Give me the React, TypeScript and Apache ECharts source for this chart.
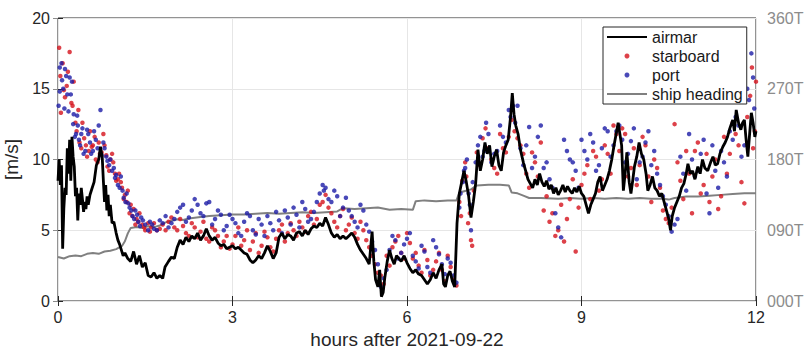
import React, { useEffect, useRef } from "react";
import * as echarts from "echarts";

// ---- Data ----
const airmarHours = [
  0.00, 0.02, 0.04, 0.06, 0.08, 0.10, 0.12, 0.14, 0.16, 0.18, 0.20, 0.22, 0.24, 0.26, 0.28, 0.30, 0.32, 0.34, 0.36, 0.38,
  0.40, 0.42, 0.44, 0.46, 0.48, 0.50, 0.52, 0.55, 0.58, 0.62, 0.66, 0.70, 0.73, 0.76, 0.78, 0.80, 0.82, 0.84, 0.86, 0.88,
  0.90, 0.93, 0.96, 1.00, 1.03, 1.06, 1.09, 1.12, 1.15, 1.20, 1.25, 1.30, 1.35, 1.40, 1.45, 1.50, 1.55, 1.60, 1.65, 1.70,
  1.75, 1.80, 1.84, 1.90, 1.95, 2.00, 2.05, 2.10, 2.15, 2.20, 2.25, 2.30, 2.35, 2.40, 2.45, 2.50, 2.55, 2.60, 2.65, 2.70,
  2.75, 2.80, 2.85, 2.90, 2.95, 3.00, 3.05, 3.10, 3.15, 3.20, 3.25, 3.30, 3.35, 3.40, 3.45, 3.50, 3.55, 3.60, 3.65, 3.70,
  3.75, 3.80, 3.85, 3.90, 3.95, 4.00, 4.05, 4.10, 4.15, 4.20, 4.25, 4.30, 4.35, 4.40, 4.45, 4.50, 4.55, 4.60, 4.65, 4.70,
  4.75, 4.80, 4.85, 4.90, 4.95, 5.00, 5.05, 5.10, 5.15, 5.20, 5.25, 5.30, 5.35, 5.40, 5.43, 5.46, 5.50, 5.53, 5.56, 5.59,
  5.62, 5.66, 5.70, 5.74, 5.78, 5.82, 5.86, 5.90, 5.95, 6.00, 6.05, 6.10, 6.15, 6.20, 6.25, 6.30, 6.35, 6.40, 6.45, 6.50,
  6.55, 6.60, 6.63, 6.66, 6.70, 6.74, 6.78, 6.82, 6.86, 6.90, 6.94, 6.98, 7.02, 7.06, 7.10, 7.14, 7.18, 7.22, 7.26, 7.30,
  7.34, 7.38, 7.42, 7.46, 7.50, 7.54, 7.58, 7.62, 7.66, 7.70, 7.74, 7.78, 7.81, 7.84, 7.87, 7.91, 7.95, 8.00, 8.04, 8.08,
  8.12, 8.16, 8.20, 8.24, 8.28, 8.32, 8.36, 8.40, 8.44, 8.48, 8.52, 8.56, 8.60, 8.64, 8.68, 8.72, 8.76, 8.80, 8.84, 8.88,
  8.92, 8.96, 9.00, 9.04, 9.08, 9.12, 9.16, 9.20, 9.24, 9.28, 9.32, 9.36, 9.40, 9.44, 9.48, 9.52, 9.56, 9.60, 9.63, 9.66,
  9.69, 9.72, 9.75, 9.78, 9.82, 9.85, 9.88, 9.91, 9.95, 9.99, 10.03, 10.07, 10.11, 10.14, 10.18, 10.22, 10.26, 10.30, 10.34, 10.38,
  10.42, 10.46, 10.50, 10.53, 10.56, 10.60, 10.64, 10.68, 10.72, 10.76, 10.80, 10.83, 10.87, 10.91, 10.95, 11.00, 11.04, 11.08, 11.12, 11.17,
  11.22, 11.26, 11.30, 11.34, 11.38, 11.43, 11.47, 11.51, 11.55, 11.60, 11.63, 11.66, 11.70, 11.74, 11.77, 11.80, 11.83, 11.86, 11.89, 11.92,
  11.95, 11.98, 12.00,
];
const airmarSpeed = [
  8.5, 10.0, 8.2, 9.6, 3.7, 6.5, 8.0, 7.5, 10.8, 9.0, 11.4, 8.5, 11.6, 10.2, 9.5, 7.4, 8.0, 5.7, 7.6, 6.8,
  8.0, 7.2, 6.3, 7.0, 6.5, 7.4, 6.8, 7.5, 7.9, 8.4, 9.6, 10.0, 10.9, 10.2, 8.5, 7.0, 8.2, 6.4, 7.5, 6.0,
  6.8, 5.5, 5.6, 4.8, 4.3, 4.0, 3.6, 3.2, 3.4, 3.0, 2.8, 3.5, 2.6, 3.2, 2.4, 2.7, 1.8, 1.7, 2.0, 1.6,
  1.8, 1.6, 2.4, 2.8, 3.1, 3.0, 3.8, 4.3, 4.0, 4.5, 4.2, 4.6, 4.4, 4.8, 4.3, 4.6, 5.1, 4.6, 4.3, 4.5,
  4.1, 3.9, 4.0, 3.7, 3.8, 3.9, 3.7, 3.8, 3.6, 3.4, 3.3, 2.9, 2.7, 2.9, 3.2, 3.0, 3.4, 3.9, 3.5, 3.0,
  3.4, 4.5, 4.8, 4.4, 4.7, 4.6, 4.3, 4.8, 4.9, 4.6, 5.0, 4.7, 5.1, 5.3, 5.2, 5.5, 5.3, 5.9, 5.4, 4.8,
  4.5, 4.7, 4.4, 4.6, 4.4, 4.6, 4.8, 4.5, 4.0, 3.6, 3.3, 3.0, 2.6, 4.9, 2.8, 1.5, 1.0, 2.2, 0.3, 0.6,
  1.7, 2.8, 3.6, 3.0, 2.6, 3.2, 3.0, 2.8, 3.2, 2.7, 2.3, 2.0, 2.2, 1.9, 1.8, 1.5, 1.2, 1.5, 2.0, 1.6,
  2.2, 2.6, 1.2, 1.0, 1.8, 2.1, 1.4, 1.0, 5.5, 7.6, 8.4, 9.2, 8.4, 7.4, 5.9, 7.0, 8.3, 10.7, 9.2, 10.0,
  11.2, 10.4, 11.0, 9.5, 10.2, 10.7, 9.6, 9.2, 10.5, 11.0, 11.4, 13.0, 14.7, 13.2, 12.4, 11.8, 10.7, 9.8, 9.2, 8.6,
  8.3, 8.0, 8.6, 8.2, 9.0, 8.4, 8.1, 8.5, 7.9, 8.2, 7.6, 8.0, 7.5, 7.8, 8.2, 7.7, 8.1, 7.8, 7.6, 8.0,
  7.7, 8.1, 7.6, 7.4, 6.8, 6.2, 6.8, 7.2, 7.6, 8.4, 8.8, 7.8, 8.2, 8.6, 9.2, 10.0, 11.0, 11.9, 12.6, 11.8,
  11.0, 7.8, 9.0, 10.5, 8.4, 7.6, 8.5, 9.5, 10.2, 11.2, 10.4, 10.0, 9.0, 7.8, 8.2, 8.8, 8.0, 7.8, 7.4, 7.6,
  7.0, 6.4, 5.8, 5.0, 6.0, 6.6, 7.0, 7.4, 8.0, 8.3, 9.0, 9.7, 9.0, 9.2, 8.6, 9.5, 9.0, 10.0, 9.4, 9.2,
  9.8, 10.2, 9.6, 9.7, 10.4, 10.9, 11.2, 11.6, 12.2, 12.8, 12.0, 13.5, 12.6, 12.1, 12.6, 12.8, 11.4, 10.2, 11.8, 13.3,
  12.6, 11.6, 12.0,
];

const starboardHours = [
  0.02, 0.05, 0.08, 0.12, 0.15, 0.20, 0.23, 0.27, 0.30, 0.35, 0.40, 0.45, 0.50, 0.55, 0.60, 0.65, 0.70, 0.75, 0.80, 0.85,
  0.90, 0.95, 1.00, 1.05, 1.10, 1.15, 1.20, 1.25, 1.30, 1.35, 1.40, 1.45, 1.50, 1.55, 1.60, 1.70, 1.80, 1.90, 2.00, 2.10,
  2.20, 2.30, 2.40, 2.50, 2.60, 2.70, 2.80, 2.90, 3.00, 3.10, 3.20, 3.30, 3.40, 3.50, 3.60, 3.70, 3.80, 3.90, 4.00, 4.10,
  4.20, 4.30, 4.40, 4.50, 4.60, 4.70, 4.80, 4.90, 5.00, 5.10, 5.20, 5.30, 5.40, 5.50, 5.60, 5.70, 5.80, 5.90, 6.00, 6.10,
  6.20, 6.30, 6.40, 6.50, 6.60, 6.70, 6.80, 6.90, 6.95, 7.00, 7.05, 7.10, 7.15, 7.20, 7.30, 7.40, 7.50, 7.60, 7.70, 7.80,
  7.90, 8.00, 8.10, 8.20, 8.30, 8.40, 8.50, 8.60, 8.70, 8.80, 8.90, 9.00, 9.10, 9.20, 9.30, 9.40, 9.50, 9.60, 9.70, 9.80,
  9.90, 10.00, 10.10, 10.20, 10.30, 10.40, 10.50, 10.60, 10.70, 10.80, 10.90, 11.00, 11.10, 11.20, 11.30, 11.40, 11.50, 11.60, 11.70, 11.80,
  11.90, 11.95, 12.00,
  0.04, 0.10, 0.17, 0.25, 0.32, 0.37, 0.42, 0.48, 0.53, 0.58, 0.63, 0.68, 0.72, 0.78, 0.83, 0.88, 0.93, 0.98, 1.03, 1.08,
  1.13, 1.18, 1.23, 1.28, 1.33, 1.38, 1.48, 1.58, 1.65, 1.75, 1.85, 1.95, 2.05, 2.15, 2.25, 2.35, 2.45, 2.55, 2.65, 2.75,
  2.85, 2.95, 3.05, 3.15, 3.25, 3.35, 3.45, 3.55, 3.65, 3.75, 3.85, 3.95, 4.05, 4.15, 4.25, 4.35, 4.45, 4.55, 4.65, 4.75,
  4.85, 4.95, 5.05, 5.15, 5.25, 5.35, 5.45, 5.55, 5.65, 5.75, 5.85, 5.95, 6.05, 6.15, 6.25, 6.35, 6.45, 6.55, 6.65, 6.75,
  6.85, 6.93, 7.02, 7.08, 7.12, 7.25, 7.35, 7.45, 7.55, 7.65, 7.75, 7.85, 7.95, 8.05, 8.15, 8.25, 8.35, 8.45, 8.55, 8.65,
  8.75, 8.85, 8.95, 9.05, 9.15, 9.25, 9.35, 9.45, 9.55, 9.65, 9.75, 9.85, 9.95, 10.05, 10.15, 10.25, 10.35, 10.45, 10.55, 10.65,
  10.75, 10.85, 10.95, 11.05, 11.15, 11.25, 11.35, 11.45, 11.55, 11.65, 11.75, 11.85, 11.93, 11.98,
];
const starboardSpeed = [
  17.9, 13.3, 16.8, 14.4, 15.2, 17.6, 14.0, 15.5, 12.6, 13.5, 10.8, 11.5, 10.2, 12.0, 11.0, 10.0, 11.2, 10.5, 11.0, 9.5,
  10.0, 9.8, 8.5, 9.0, 8.0, 7.5, 7.8, 6.8, 6.5, 5.8, 6.2, 5.4, 5.0, 5.5, 5.2, 5.0, 5.4, 5.6, 5.2, 5.8,
  4.8, 5.5, 4.5, 5.6, 4.2, 5.0, 3.8, 4.6, 4.0, 5.2, 4.3, 3.6, 4.8, 3.9, 4.5, 3.5, 5.0, 4.2, 5.5, 4.6,
  5.2, 6.0, 5.4, 6.8, 7.5, 6.2, 5.2, 6.5, 5.4, 4.8, 5.6, 4.3, 3.2, 2.0, 1.2, 2.5, 4.2, 3.4, 4.8, 3.0,
  2.5, 3.6, 1.8, 2.8, 2.2, 3.2, 1.5, 7.0, 8.5, 9.8, 5.5, 4.3, 7.8, 10.5, 11.5, 10.8, 9.4, 11.8, 10.5, 12.8,
  11.5, 10.4, 8.0, 9.8, 11.2, 7.4, 6.2, 5.0, 4.2, 7.2, 3.5, 8.2, 9.6, 10.6, 7.8, 11.0, 9.0, 11.8, 12.2, 8.8,
  10.8, 9.6, 11.0, 7.0, 9.4, 6.4, 5.5, 12.5, 8.5, 10.6, 6.2, 11.2, 8.2, 7.0, 10.0, 7.4, 9.0, 12.6, 11.0, 6.9,
  14.5, 10.8, 15.5,
  15.9, 14.9, 16.2, 13.8, 12.0, 11.2, 12.6, 11.0, 10.6, 10.9, 11.6, 9.8, 10.4, 11.8, 10.3, 9.2, 10.4, 9.0, 8.6, 8.4,
  7.2, 7.0, 6.2, 6.0, 5.4, 5.6, 5.2, 4.9, 5.5, 5.1, 5.0, 5.9, 5.0, 5.3, 4.6, 5.2, 4.9, 4.4, 5.2, 4.6,
  4.2, 3.7, 4.6, 3.9, 5.0, 4.2, 3.4, 4.9, 3.8, 4.4, 5.4, 4.8, 5.0, 5.6, 4.9, 6.3, 5.8, 7.0, 6.6, 5.6,
  6.0, 5.0, 5.9, 4.4, 5.0, 3.8, 2.6, 1.8, 3.2, 3.8, 4.6, 3.0, 4.1, 3.4, 2.0, 2.9, 2.2, 3.4, 1.4, 2.4,
  1.1, 6.0, 8.8, 6.2, 3.9, 9.6, 12.2, 10.0, 9.0, 10.8, 11.6, 12.0, 11.0, 9.0, 10.5, 8.8, 6.4, 5.6, 4.6, 6.8,
  5.8, 8.6, 6.6, 9.0, 7.2, 10.2, 8.6, 10.4, 12.4, 10.6, 11.8, 9.4, 8.2, 11.6, 8.8, 10.0, 8.0, 5.8, 6.6, 9.8,
  7.2, 9.0, 10.6, 7.6, 10.4, 8.8, 6.5, 11.6, 10.4, 11.8, 8.4, 13.0, 16.5, 12.0,
];

const portHours = [
  0.01, 0.03, 0.06, 0.09, 0.12, 0.16, 0.20, 0.24, 0.27, 0.31, 0.34, 0.38, 0.42, 0.47, 0.52, 0.57, 0.62, 0.68, 0.73, 0.78,
  0.83, 0.88, 0.93, 0.98, 1.03, 1.08, 1.13, 1.18, 1.23, 1.28, 1.33, 1.38, 1.43, 1.50, 1.58, 1.65, 1.75, 1.85, 1.95, 2.05,
  2.15, 2.25, 2.35, 2.45, 2.55, 2.65, 2.75, 2.85, 2.95, 3.05, 3.15, 3.25, 3.35, 3.45, 3.55, 3.65, 3.75, 3.85, 3.95, 4.05,
  4.15, 4.25, 4.35, 4.45, 4.55, 4.60, 4.65, 4.75, 4.85, 4.95, 5.05, 5.15, 5.25, 5.35, 5.45, 5.55, 5.65, 5.75, 5.85, 5.95,
  6.05, 6.15, 6.25, 6.35, 6.45, 6.55, 6.65, 6.75, 6.85, 6.92, 6.98, 7.03, 7.08, 7.13, 7.22, 7.30, 7.36, 7.45, 7.55, 7.65,
  7.75, 7.82, 7.90, 8.00, 8.10, 8.20, 8.25, 8.35, 8.45, 8.55, 8.65, 8.75, 8.85, 8.95, 9.05, 9.15, 9.25, 9.35, 9.45, 9.55,
  9.65, 9.75, 9.85, 9.95, 10.05, 10.15, 10.25, 10.35, 10.45, 10.55, 10.65, 10.75, 10.85, 10.95, 11.05, 11.15, 11.25, 11.35, 11.45, 11.55,
  11.65, 11.75, 11.85, 11.92, 11.97,
  0.03, 0.07, 0.11, 0.14, 0.18, 0.22, 0.26, 0.29, 0.33, 0.36, 0.40, 0.44, 0.50, 0.55, 0.60, 0.65, 0.70, 0.75, 0.80, 0.85,
  0.90, 0.96, 1.00, 1.06, 1.11, 1.16, 1.21, 1.26, 1.31, 1.36, 1.41, 1.46, 1.55, 1.62, 1.70, 1.80, 1.90, 2.00, 2.10, 2.20,
  2.30, 2.40, 2.50, 2.60, 2.70, 2.80, 2.90, 3.00, 3.10, 3.20, 3.30, 3.40, 3.50, 3.60, 3.70, 3.80, 3.90, 4.00, 4.10, 4.20,
  4.30, 4.40, 4.50, 4.57, 4.70, 4.80, 4.90, 5.00, 5.10, 5.20, 5.30, 5.40, 5.50, 5.60, 5.70, 5.80, 5.90, 6.00, 6.10, 6.20,
  6.30, 6.40, 6.50, 6.60, 6.70, 6.80, 6.90, 6.96, 7.00, 7.06, 7.10, 7.18, 7.26, 7.33, 7.40, 7.50, 7.60, 7.70, 7.78, 7.86,
  7.95, 8.05, 8.15, 8.30, 8.40, 8.50, 8.60, 8.70, 8.80, 8.90, 9.00, 9.10, 9.20, 9.30, 9.40, 9.50, 9.60, 9.70, 9.80, 9.90,
  10.00, 10.10, 10.20, 10.30, 10.40, 10.50, 10.60, 10.70, 10.80, 10.90, 11.00, 11.10, 11.20, 11.30, 11.40, 11.50, 11.60, 11.70, 11.80, 11.88,
  11.95,
];
const portSpeed = [
  13.8, 16.5, 16.8, 15.0, 16.4, 14.6, 15.8, 15.5, 13.2, 11.8, 12.4, 11.0, 12.2, 10.6, 11.8, 10.4, 12.0, 10.8, 13.5, 11.2,
  10.2, 9.6, 9.2, 8.7, 8.2, 8.8, 7.3, 7.6, 6.6, 6.0, 6.4, 5.6, 5.9, 5.4, 5.6, 5.1, 5.7, 6.0, 5.5, 6.3,
  6.8, 5.9, 7.2, 6.2, 6.9, 5.4, 6.4, 5.0, 6.1, 5.5, 4.6, 6.2, 5.0, 5.8, 4.6, 5.5, 6.3, 4.8, 5.9, 6.6,
  5.2, 6.5, 5.8, 7.0, 8.2, 8.0, 7.2, 7.8, 6.0, 7.3, 6.0, 5.2, 6.4, 4.9, 3.6, 1.0, 2.2, 4.6, 3.0, 4.0,
  4.8, 2.8, 3.9, 2.4, 4.3, 3.3, 1.9, 2.7, 1.3, 7.6, 9.2, 10.0, 6.8, 8.4, 11.0, 10.2, 12.6, 9.8, 10.6, 11.6,
  13.5, 13.8, 13.8, 9.6, 12.3, 10.2, 11.6, 9.4, 8.6, 6.2, 4.5, 10.6, 9.8, 8.0, 10.6, 11.8, 9.2, 10.8, 12.0, 11.0,
  12.4, 9.8, 11.3, 8.6, 10.2, 12.0, 10.6, 8.2, 6.8, 4.9, 5.8, 9.0, 11.8, 8.8, 10.4, 7.6, 11.0, 8.0, 9.8, 12.0,
  13.0, 10.2, 15.0, 17.5, 13.6,
  14.8, 15.6, 13.6, 15.9, 13.4, 14.6, 12.5, 11.6, 13.1, 11.4, 11.8, 10.4, 12.1, 11.2, 10.6, 11.4, 12.4, 10.3, 10.8, 9.9,
  10.0, 9.4, 8.9, 8.0, 7.8, 7.0, 6.9, 6.4, 5.8, 6.1, 5.3, 5.7, 5.0, 5.4, 5.0, 5.5, 5.2, 5.8, 6.6, 5.6,
  6.4, 6.8, 6.0, 7.0, 5.8, 6.1, 5.3, 5.8, 4.8, 5.6, 6.0, 4.7, 5.4, 6.0, 5.0, 5.7, 6.4, 5.4, 6.1, 7.0,
  5.6, 6.3, 7.6, 7.8, 7.0, 7.4, 6.6, 6.4, 5.6, 6.8, 5.4, 4.2, 2.6, 1.6, 3.6, 4.3, 3.4, 4.4, 3.2, 2.3,
  3.5, 2.0, 3.8, 2.6, 3.0, 1.8, 6.6, 8.4, 9.4, 7.6, 5.0, 9.8, 11.6, 10.6, 11.8, 10.4, 12.4, 11.2, 13.0, 12.6,
  10.8, 11.0, 9.4, 12.4, 9.8, 8.0, 5.2, 11.4, 10.0, 9.2, 11.4, 10.0, 11.2, 9.6, 12.2, 10.2, 12.0, 11.4, 10.4, 12.2,
  9.8, 11.2, 9.6, 9.0, 7.4, 6.0, 5.4, 10.2, 7.8, 10.0, 9.2, 11.4, 6.2, 9.2, 10.6, 8.8, 11.4, 12.4, 11.0, 14.2,
  15.8,
];

const headingHours = [
  0.0, 0.1, 0.2, 0.3, 0.4, 0.5, 0.6, 0.7, 0.8, 0.9, 1.0, 1.1, 1.15, 1.2, 1.25, 1.35, 1.45, 1.55, 1.65, 1.75,
  1.85, 1.95, 2.05, 2.15, 2.25, 2.35, 2.45, 2.6, 2.8, 3.0, 3.2, 3.4, 3.6, 3.8, 4.0, 4.2, 4.4, 4.6, 4.8, 4.9,
  5.1, 5.3, 5.5, 5.7, 5.9, 6.1, 6.15, 6.3, 6.5, 6.7, 6.85, 6.9, 7.0, 7.1, 7.2, 7.4, 7.6, 7.75, 7.8, 7.9,
  8.0, 8.1, 8.3, 8.6, 8.8, 9.0, 9.2, 9.4, 9.6, 9.8, 10.0, 10.2, 10.4, 10.5, 10.6, 10.8, 11.0, 11.2, 11.4, 11.6,
  11.8, 12.0,
];
const headingDeg = [
  56, 54, 57, 58, 57, 60, 61, 60, 63, 64, 66, 70, 76, 86, 93, 94, 93, 95, 94, 96,
  100, 102, 104, 103, 105, 106, 107, 108, 109, 110, 110, 111, 112, 111, 112, 113, 112, 113, 114, 118,
  117, 118, 119, 116, 117, 116, 127, 128, 127, 128, 128, 138, 140, 142, 147, 148, 148, 147, 138, 137,
  134, 131, 131, 130, 131, 130, 131, 130, 131, 130, 131, 130, 130, 129, 131, 133, 133, 134, 135, 136,
  137, 137,
];

const xTicks = [0, 3, 6, 9, 12];
const leftTicks = [0, 5, 10, 15, 20];
const rightTicks = [0, 90, 180, 270, 360];

const FONT = "'Liberation Sans', Arial, Helvetica, sans-serif";
const LINE_ICON = "path://M0,0 L40,0 L40,2 L0,2 Z";

function zip(xs: number[], ys: number[]) {
  return xs.map((x, i) => [x, ys[i]]);
}

export default function App() {
  const ref = useRef<HTMLDivElement>(null);

  useEffect(() => {
    if (!ref.current) return;
    const chart = echarts.init(ref.current, undefined, { renderer: "svg" });
    const dark = "#262626";
    const gray = "#8c8c8c";
    chart.setOption({
      animation: false,
      textStyle: { fontFamily: FONT },
      grid: {
        left: 58,
        right: 52,
        top: 18,
        bottom: 50,
        outerBoundsMode: "none",
        containLabel: false,
        show: true,
        borderColor: dark,
        borderWidth: 1,
        backgroundColor: "#fff",
      },
      legend: {
        orient: "vertical",
        left: 603,
        top: 27,
        padding: [1, 4, 1, 4],
        itemGap: 1,
        itemWidth: 40,
        itemHeight: 5,
        backgroundColor: "#fff",
        borderColor: dark,
        borderWidth: 1,
        borderRadius: 0,
        selectedMode: false,
        textStyle: { fontFamily: FONT, fontSize: 16, color: "#1a1a1a", lineHeight: 18 },
        data: [
          { name: "airmar", icon: LINE_ICON },
          { name: "starboard", icon: "circle" },
          { name: "port", icon: "circle" },
          { name: "ship heading", icon: LINE_ICON },
        ],
      },
      xAxis: [
        {
          type: "value",
          min: xTicks[0],
          max: xTicks[xTicks.length - 1],
          interval: 3,
          position: "bottom",
          name: "hours after 2021-09-22",
          nameLocation: "middle",
          nameGap: 29,
          nameTextStyle: { fontFamily: FONT, fontSize: 19, color: dark },
          axisLine: { show: false },
          axisTick: { show: true, inside: true, length: 5, lineStyle: { color: dark } },
          axisLabel: { fontFamily: FONT, fontSize: 16, color: dark, margin: 8 },
          splitLine: { show: true, lineStyle: { color: "#e6e6e6", width: 1 } },
        },
        {
          type: "value",
          min: xTicks[0],
          max: xTicks[xTicks.length - 1],
          interval: 3,
          position: "top",
          axisLine: { show: false },
          axisTick: { show: true, inside: true, length: 5, lineStyle: { color: dark } },
          axisLabel: { show: false },
          splitLine: { show: false },
        },
      ],
      yAxis: [
        {
          type: "value",
          min: leftTicks[0],
          max: leftTicks[leftTicks.length - 1],
          interval: 5,
          position: "left",
          name: "[m/s]",
          nameLocation: "middle",
          nameGap: 28,
          nameRotate: 90,
          nameTextStyle: { fontFamily: FONT, fontSize: 19, color: dark },
          axisLine: { show: false },
          axisTick: { show: true, inside: true, length: 5, lineStyle: { color: dark } },
          axisLabel: { fontFamily: FONT, fontSize: 16, color: dark, margin: 8 },
          splitLine: { show: true, lineStyle: { color: "#e6e6e6", width: 1 } },
        },
        {
          type: "value",
          min: rightTicks[0],
          max: rightTicks[rightTicks.length - 1],
          interval: 90,
          position: "right",
          axisLine: { show: false },
          axisTick: { show: true, inside: true, length: 5, lineStyle: { color: gray } },
          axisLabel: {
            fontFamily: FONT,
            fontSize: 16,
            color: gray,
            margin: 11,
            formatter: (v: number) => String(v).padStart(3, "0") + "T",
          },
          splitLine: { show: false },
        },
      ],
      series: [
        {
          name: "airmar",
          type: "line",
          xAxisIndex: 0,
          yAxisIndex: 0,
          data: zip(airmarHours, airmarSpeed),
          symbol: "none",
          lineStyle: { color: "#000", width: 2.8 },
          itemStyle: { color: "#000" },
          z: 4,
        },
        {
          name: "starboard",
          type: "scatter",
          xAxisIndex: 0,
          yAxisIndex: 0,
          data: zip(starboardHours, starboardSpeed),
          symbol: "circle",
          symbolSize: 4.5,
          itemStyle: { color: "#d4121b" },
          z: 3,
        },
        {
          name: "port",
          type: "scatter",
          xAxisIndex: 0,
          yAxisIndex: 0,
          data: zip(portHours, portSpeed),
          symbol: "circle",
          symbolSize: 4.5,
          itemStyle: { color: "#1c1ca6" },
          z: 3,
        },
        {
          name: "ship heading",
          type: "line",
          xAxisIndex: 0,
          yAxisIndex: 1,
          data: zip(headingHours, headingDeg),
          symbol: "none",
          lineStyle: { color: "#808080", width: 2 },
          itemStyle: { color: "#808080" },
          z: 2,
        },
      ],
    });
    return () => chart.dispose();
  }, []);

  return (
    <div
      ref={ref}
      style={{ position: "fixed", left: 0, top: 0, width: 808, height: 351, background: "#fff" }}
    />
  );
}
